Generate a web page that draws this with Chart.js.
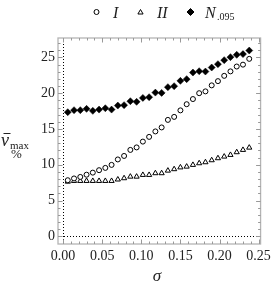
<!DOCTYPE html>
<html>
<head>
<meta charset="utf-8">
<script src="https://cdn.jsdelivr.net/npm/chart.js@4.4.1/dist/chart.umd.min.js"></script>
<style>
  html,body{margin:0;padding:0;background:#fff;}
  #wrap{width:275px;height:285px;}
</style>
</head>
<body>
<div id="wrap"><canvas id="chart" width="275" height="285"></canvas></div>
<script>
// sigma values (x) and the three series
const sigma = [0.006,0.014,0.022,0.030,0.038,0.046,0.054,0.062,0.070,0.078,
               0.086,0.094,0.102,0.110,0.118,0.126,0.134,0.142,0.150,0.158,
               0.166,0.174,0.182,0.190,0.198,0.206,0.214,0.222,0.230,0.238];
const seriesI  = [7.85,8.10,8.31,8.62,8.91,9.25,9.57,9.99,10.75,11.24,
                  12.08,12.43,13.24,13.90,14.66,15.22,16.27,16.69,17.60,18.46,
                  19.18,20.00,20.25,21.09,21.68,22.42,23.04,23.72,23.98,24.79];
const seriesII = [7.65,7.75,7.75,7.75,7.75,7.75,7.75,7.75,7.95,8.13,
                  8.35,8.35,8.59,8.59,8.83,8.83,9.19,9.39,9.64,9.75,
                  9.99,10.22,10.36,10.64,10.92,11.15,11.38,11.76,12.08,12.40];
const seriesN  = [17.35,17.63,17.63,17.81,17.53,17.71,17.90,17.71,18.27,18.33,
                  18.88,18.79,19.34,19.44,20.08,20.04,20.84,20.98,21.72,21.96,
                  22.88,23.07,23.02,23.58,24.05,24.61,25.03,25.35,25.45,25.95];
const xTicks = [0,0.05,0.10,0.15,0.20,0.25];
const yTicks = [0,5,10,15,20,25];

const FONT = '"Liberation Serif", "DejaVu Serif", serif';
const pts = ys => ys.map((y,i)=>({x:sigma[i], y}));

// frame, inward ticks on four sides, dotted zero lines, titles, legend
const framePlugin = {
  id:'frame',
  beforeDatasetsDraw(chart){
    const {ctx, chartArea:a, scales:{x, y}} = chart;
    ctx.save();
    // dotted zero lines
    ctx.strokeStyle = '#000'; ctx.lineWidth = 1; ctx.setLineDash([1,2]);
    const x0 = Math.round(x.getPixelForValue(0))+0.5;
    const y0 = Math.round(y.getPixelForValue(0))+0.5;
    ctx.beginPath(); ctx.moveTo(x0,a.top); ctx.lineTo(x0,a.bottom); ctx.stroke();
    ctx.beginPath(); ctx.moveTo(a.left,y0); ctx.lineTo(a.right,y0); ctx.stroke();
    ctx.setLineDash([]);
    // frame
    ctx.strokeStyle = '#b4b4b4'; ctx.lineWidth = 1.3;
    ctx.strokeRect(a.left, a.top, a.right-a.left, a.bottom-a.top);
    // ticks
    ctx.lineWidth = 1; ctx.strokeStyle = '#999';
    ctx.beginPath();
    for(let k=0;k<=25;k++){
      const v = k/100, px = Math.round(x.getPixelForValue(v))+0.5;
      if(px < a.left || px > a.right) continue;
      const len = (k%5===0) ? 4.5 : 2.5;
      ctx.moveTo(px,a.bottom); ctx.lineTo(px,a.bottom-len);
      ctx.moveTo(px,a.top); ctx.lineTo(px,a.top+len);
    }
    for(let k=-1;k<=27;k++){
      const py = Math.round(y.getPixelForValue(k))+0.5;
      if(py < a.top || py > a.bottom) continue;
      const len = (k%5===0) ? 4.5 : 2.5;
      ctx.moveTo(a.left,py); ctx.lineTo(a.left+len,py);
      ctx.moveTo(a.right,py); ctx.lineTo(a.right-len,py);
    }
    ctx.stroke();
    ctx.restore();
  },
  afterDraw(chart){
    const {ctx} = chart;
    ctx.save();
    ctx.fillStyle = '#222';
    ctx.textBaseline = 'alphabetic';
    // y title: v-bar with subscript max, % below
    ctx.textAlign = 'left';
    ctx.font = 'italic 18px '+FONT;
    ctx.fillText('v', 1, 146);
    ctx.strokeStyle = '#222'; ctx.lineWidth = 1;
    ctx.beginPath(); ctx.moveTo(3.5,133.5); ctx.lineTo(10.5,133.5); ctx.stroke();
    ctx.font = '11px '+FONT;
    ctx.fillText('max', 10, 149);
    ctx.font = '13px '+FONT;
    ctx.textAlign = 'center';
    ctx.fillText('%', 16.5, 158);
    // x title
    ctx.font = 'italic 17px '+FONT;
    ctx.fillText('\u03c3', 157, 281);
    // legend
    const drawPoint = Chart.helpers.drawPoint;
    ctx.strokeStyle = '#000';
    ctx.fillStyle = '#fff';
    drawPoint(ctx,{pointStyle:'circle',radius:2.5,borderWidth:1},96.5,12);
    drawPoint(ctx,{pointStyle:'triangle',radius:3,borderWidth:1},140.5,12.5);
    ctx.fillStyle = '#000';
    drawPoint(ctx,{pointStyle:'rectRot',radius:3.5,borderWidth:0.5},190.5,12);
    ctx.fillStyle = '#222';
    ctx.textAlign = 'left';
    ctx.font = 'italic 16px '+FONT;
    ctx.fillText('I', 113, 18);
    ctx.fillText('II', 157, 18);
    ctx.fillText('N', 205, 18);
    ctx.font = '10px '+FONT;
    ctx.fillText('.095', 217, 20);
    ctx.restore();
  }
};

new Chart(document.getElementById('chart'), {
  type:'scatter',
  data:{
    datasets:[
      {label:'I', data:pts(seriesI), pointStyle:'circle', pointRadius:2.5,
       borderColor:'#000', backgroundColor:'#fff', borderWidth:1},
      {label:'II', data:pts(seriesII), pointStyle:'triangle', pointRadius:3,
       borderColor:'#000', backgroundColor:'#fff', borderWidth:1},
      {label:'N.095', data:pts(seriesN), pointStyle:'rectRot', pointRadius:3.5,
       borderColor:'#000', backgroundColor:'#000', borderWidth:0.5}
    ]
  },
  options:{
    responsive:false,
    animation:false,
    devicePixelRatio:1,
    layout:{padding:{top:38, right:13, left:0, bottom:0}},
    plugins:{legend:{display:false}, tooltip:{enabled:false}},
    scales:{
      x:{
        type:'linear', min:-0.0065, max:0.2525,
        afterBuildTicks: s => { s.ticks = xTicks.map(v=>({value:v})); },
        afterFit: s => { s.height = 41; },
        grid:{display:false, drawTicks:false}, border:{display:false},
        ticks:{padding:4, color:'#222', font:{family:FONT, size:14},
               maxRotation:0, autoSkip:false,
               callback: v => Number(v).toFixed(2)}
      },
      y:{
        type:'linear', min:-1.05, max:27.7,
        afterBuildTicks: s => { s.ticks = yTicks.map(v=>({value:v})); },
        afterFit: s => { s.width = 58; },
        grid:{display:false, drawTicks:false}, border:{display:false},
        ticks:{padding:3, color:'#222', font:{family:FONT, size:14}, autoSkip:false}
      }
    }
  },
  plugins:[framePlugin]
});
</script>
</body>
</html>
